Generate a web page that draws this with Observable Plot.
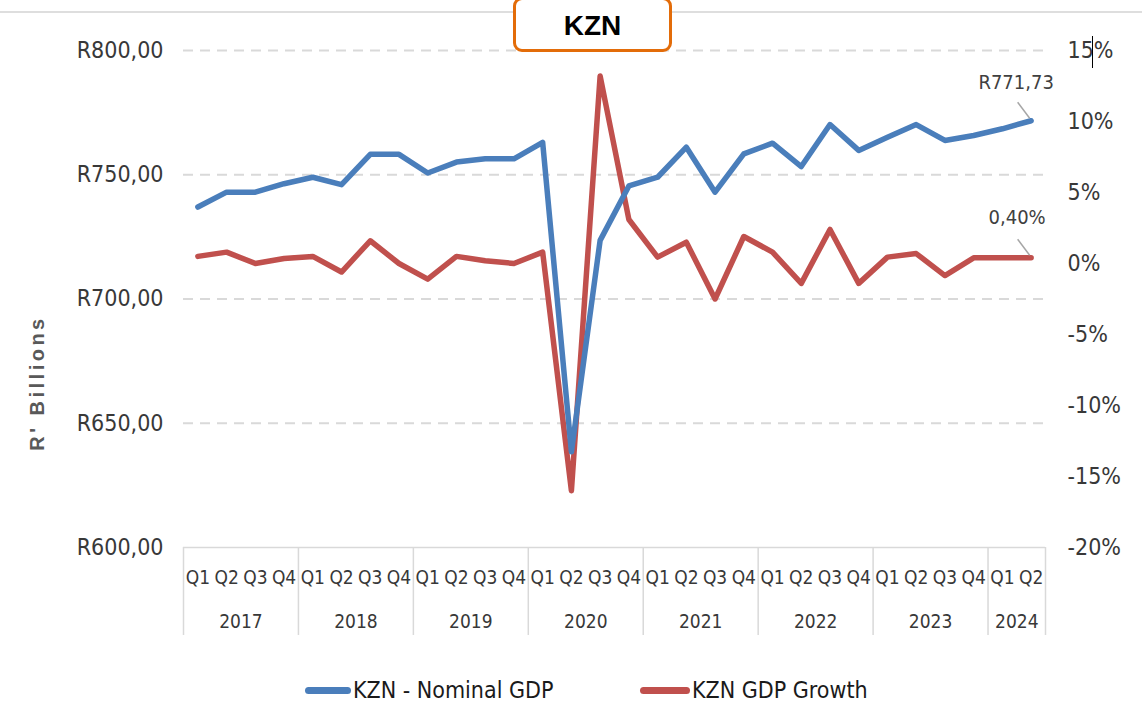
<!DOCTYPE html>
<html>
<head>
<meta charset="utf-8">
<script src="https://cdn.jsdelivr.net/npm/d3@7"></script>
<script src="https://cdn.jsdelivr.net/npm/@observablehq/plot@0.6"></script>
<style>
  html, body { margin: 0; padding: 0; background: #fff; }
  #wrap { position: relative; width: 1142px; height: 706px; overflow: hidden; font-family: "Liberation Sans Narrow", "DejaVu Sans Condensed", "Liberation Sans", sans-serif; }
  #topline { position: absolute; left: 0; top: 11px; width: 1142px; height: 2px; background: #dedede; }
  #title { position: absolute; left: 513px; top: -3px; width: 159px; height: 55px; border: 3px solid #e36c09; border-radius: 9px; background: #fff;
           font-family: "Liberation Sans", Arial, sans-serif; font-weight: bold; font-size: 28px; color: #000; display: flex; align-items: center; justify-content: center; padding-top: 3px; box-sizing: border-box; }
  #cursor { position: absolute; left: 1092px; top: 36px; width: 1px; height: 32px; background: #000; }
  #legend { position: relative; height: 38px; width: 1142px; }
  .li { position: absolute; top: 3px; height: 38px; display: flex; align-items: center; font-size: 23px; color: #1a1a1a; }
  .sw { display: inline-block; height: 7px; border-radius: 4px; margin-right: 2px; }
</style>
</head>
<body>
<div id="wrap">
  <div id="chart"></div>
  <div id="legend"></div>
  <div id="topline"></div>
  <div id="title">KZN</div>
  <div id="cursor"></div>
</div>
<script>
const quarterLabels = ["Q1","Q2","Q3","Q4","Q1","Q2","Q3","Q4","Q1","Q2","Q3","Q4","Q1","Q2","Q3","Q4",
                       "Q1","Q2","Q3","Q4","Q1","Q2","Q3","Q4","Q1","Q2","Q3","Q4","Q1","Q2"];
const years = ["2017","2018","2019","2020","2021","2022","2023","2024"];
const quartersPerYear = [4,4,4,4,4,4,4,2];
const nominalGDP = [737.0, 743.0, 743.0, 746.4, 749.0, 746.0, 758.2, 758.2, 750.7, 755.1, 756.4, 756.4,
                    763.0, 638.5, 723.6, 745.5, 749.0, 761.1, 743.0, 758.4, 762.7, 753.3, 770.2, 759.8,
                    765.1, 770.2, 763.8, 765.8, 768.5, 771.73];
const gdpGrowth = [0.5, 0.8, 0.0, 0.35, 0.5, -0.6, 1.6, 0.0, -1.1, 0.5, 0.2, 0.0,
                   0.8, -16.0, 13.2, 3.1, 0.45, 1.5, -2.5, 1.9, 0.8, -1.4, 2.4, -1.4,
                   0.45, 0.7, -0.85, 0.4, 0.4, 0.4];
const gdpTicks = [600, 650, 700, 750, 800];
const growthTicks = [-20, -15, -10, -5, 0, 5, 10, 15];
const seriesNames = ["KZN - Nominal GDP", "KZN GDP Growth"];
const yTitle = "R' Billions";
const lastGDPLabel = "R771,73";
const lastGrowthLabel = "0,40%";

const blue = "#4a7ebb", red = "#c0504d";
const gdpDomain = [600, 800], growthDomain = [-20, 15];
// map growth (%) onto the GDP axis so both share one y scale
const gy = d3.scaleLinear().domain(growthDomain).range(gdpDomain);

const idx = d3.range(quarterLabels.length);
let start = 0;
const yearInfo = years.map((y, k) => {
  const n = quartersPerYear[k];
  const o = {year: y, center: start + (n - 1) / 2, left: start - 0.5, right: start + n - 0.5};
  start += n;
  return o;
});
const boundaries = [yearInfo[0].left, ...yearInfo.map(d => d.right)];

const narrow = "'Liberation Sans Narrow', 'DejaVu Sans Condensed', 'Liberation Sans', sans-serif";

const chart = Plot.plot({
  width: 1142,
  height: 668,
  marginTop: 50,
  marginBottom: 121,
  marginLeft: 183,
  marginRight: 97,
  x: {domain: [-0.5, quarterLabels.length - 0.5]},
  y: {domain: gdpDomain},
  style: {fontFamily: narrow, color: "#383838", background: "transparent"},
  marks: [
    Plot.ruleY(gdpTicks.filter(d => d > 600), {stroke: "#d9d9d9", strokeWidth: 2, strokeDasharray: "10,7"}),
    Plot.ruleY([600], {stroke: "#d9d9d9", strokeWidth: 1.5}),
    Plot.ruleX(boundaries, {y1: 600, y2: 564.6, stroke: "#d9d9d9", strokeWidth: 1.5}),
    Plot.axisY({anchor: "left", ticks: gdpTicks, tickSize: 0, tickPadding: 20, fontSize: 23,
                tickFormat: d => `R${d},00`, label: null}),
    Plot.axisY({anchor: "right", ticks: growthTicks.map(gy), tickSize: 0, tickPadding: 22, fontSize: 23,
                tickFormat: d => `${Math.round(gy.invert(d))}%`, label: null}),
    Plot.axisX({ticks: idx, tickSize: 0, tickPadding: 23, fontSize: 19,
                tickFormat: i => quarterLabels[i], label: null}),
    Plot.text(yearInfo, {x: "center", y: 600, text: "year", lineAnchor: "top", dy: 67, fontSize: 19}),
    Plot.text([yTitle], {frameAnchor: "left", textAnchor: "middle", dx: -146, dy: 84, rotate: -90, fontSize: 20,
                fontWeight: "bold", fill: "#595959", fontFamily: "'Liberation Sans', Arial, sans-serif"}),
    Plot.line(gdpGrowth, {x: (d, i) => i, y: d => gy(d), stroke: red, strokeWidth: 5.5}),
    Plot.line(nominalGDP, {x: (d, i) => i, y: d => d, stroke: blue, strokeWidth: 5.5}),
    Plot.text([lastGDPLabel], {x: idx.length - 1, y: nominalGDP[nominalGDP.length - 1], dx: -15, dy: -38, fontSize: 20, fill: "#404040"}),
    Plot.text([lastGrowthLabel], {x: idx.length - 1, y: gy(gdpGrowth[gdpGrowth.length - 1]), dx: -14, dy: -40, fontSize: 20, fill: "#404040"}),
    (index, scales) => {
      const g = d3.create("svg:g");
      const pts = [[idx.length - 1, nominalGDP[nominalGDP.length - 1]], [idx.length - 1, gy(gdpGrowth[gdpGrowth.length - 1])]];
      for (const [xv, yv] of pts) {
        const px = scales.x(xv), py = scales.y(yv);
        g.append("line").attr("x1", px - 13).attr("y1", py - 18).attr("x2", px - 1).attr("y2", py - 2)
          .attr("stroke", "#a6a6a6").attr("stroke-width", 1.5);
      }
      return g.node();
    }
  ]
});
document.getElementById("chart").appendChild(chart);
chart.querySelectorAll("text").forEach(t => {
  if (t.textContent === yTitle) t.setAttribute("letter-spacing", "3.5");
});

const legend = document.getElementById("legend");
const items = [{name: seriesNames[0], color: blue, left: 305, sw: 46}, {name: seriesNames[1], color: red, left: 640, sw: 50}];
for (const it of items) {
  const el = document.createElement("div");
  el.className = "li";
  el.style.left = it.left + "px";
  el.innerHTML = `<span class="sw" style="width:${it.sw}px;background:${it.color}"></span>${it.name}`;
  legend.appendChild(el);
}
</script>
</body>
</html>
